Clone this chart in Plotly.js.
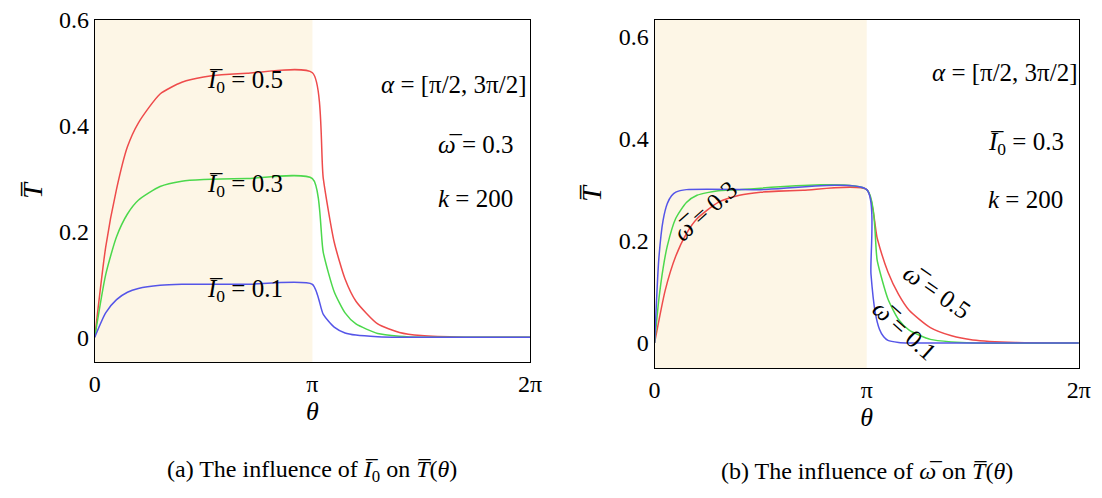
<!DOCTYPE html>
<html>
<head>
<meta charset="utf-8">
<script src="https://cdn.plot.ly/plotly-3.0.1.min.js"></script>
<style>body{margin:0;background:#fff}#chart{width:1102px;height:498px}</style>
</head>
<body>
<div id="chart"></div>
<script>
// theta is kept in units of pi
var thA = [0,0.05,0.1,0.15,0.2,0.3,0.4,0.5,0.7,1.0,1.05,1.1,1.15,1.2,1.3,1.4,1.5,1.7,2.0]
var a_I05 = [0,0.17,0.28,0.36,0.405,0.46,0.482,0.492,0.499,0.5,0.30,0.18,0.11,0.068,0.025,0.009,0.003,0,0]
var a_I03 = [0,0.118,0.19,0.233,0.259,0.285,0.295,0.298,0.3,0.3,0.16,0.086,0.046,0.025,0.007,0.002,0,0,0]
var a_I01 = [0,0.046,0.071,0.085,0.092,0.098,0.1,0.1,0.1,0.1,0.043,0.019,0.008,0.004,0.001,0,0,0,0]

var thB1 = [0,0.02,0.04,0.06,0.08,0.1,0.15,0.5,1.0,1.02,1.04,1.06,1.08,1.1,1.15,1.2,2.0]
var b_w01 = [0,0.165,0.24,0.273,0.288,0.295,0.3,0.3,0.3,0.135,0.06,0.027,0.012,0.005,0.001,0,0]
var thB3 = [0,0.02,0.04,0.06,0.1,0.15,0.2,0.3,0.4,1.0,1.05,1.1,1.15,1.2,1.3,1.4,1.5,2.0]
var b_w03 = [0,0.085,0.146,0.19,0.244,0.275,0.289,0.298,0.3,0.3,0.16,0.086,0.046,0.025,0.007,0.002,0,0]
var thB5 = [0,0.05,0.1,0.15,0.2,0.3,0.4,0.5,0.7,1.0,1.05,1.1,1.15,1.2,1.3,1.4,1.5,1.7,2.0]
var b_w05 = [0,0.103,0.17,0.214,0.243,0.275,0.289,0.295,0.299,0.3,0.204,0.139,0.095,0.064,0.03,0.014,0.006,0.001,0]

var RED = "#ee4b4b", GRN = "#4cd84c", BLU = "#5555e8"
var FONT = "Liberation Serif"

function line(x, y, c, xa, ya){
    return {x: x, y: y, xaxis: xa, yaxis: ya, mode: "lines",
        line: {color: c, width: 1.5, shape: "spline", smoothing: 0.6}, showlegend: false}
}
var traces = [
    line(thA, a_I05, RED, "x", "y"), line(thA, a_I03, GRN, "x", "y"), line(thA, a_I01, BLU, "x", "y"),
    line(thB5, b_w05, RED, "x2", "y2"), line(thB3, b_w03, GRN, "x2", "y2"), line(thB1, b_w01, BLU, "x2", "y2")
]

var xax = {range: [0, 2], tickvals: [0, 1, 2], ticktext: ["0", "π", "2π"], showgrid: false, zeroline: false,
    showline: true, mirror: true, linecolor: "#000", linewidth: 1, ticks: "", tickfont: {family: FONT, size: 24, color: "#000"},
    title: {text: "<i>θ</i>", font: {family: FONT, size: 26, color: "#000"}, standoff: 2}}
var yax = {tickvals: [0, 0.2, 0.4, 0.6], ticktext: ["0", "0.2", "0.4", "0.6"], showgrid: false, zeroline: false,
    showline: true, mirror: true, linecolor: "#000", linewidth: 1, ticks: "", tickfont: {family: FONT, size: 24, color: "#000"},
    title: {text: "<i>T̅</i>", font: {family: FONT, size: 28, color: "#000"}, standoff: 8}}

function ann(xr, yr, x, y, t, ang, sz){
    return {xref: xr, yref: yr, x: x, y: y, text: t, showarrow: false, textangle: ang || 0,
        xanchor: "center", yanchor: "middle", font: {family: FONT, size: sz || 25, color: "#000"}}
}
var I0 = "<i>I</i>̅<sub>0</sub>", W = "<i>ω</i>̅"
var annotations = [
    ann("x", "y", 0.69, 0.483, I0 + " = 0.5"), ann("x", "y", 0.69, 0.286, I0 + " = 0.3"), ann("x", "y", 0.69, 0.089, I0 + " = 0.1"),
    ann("x", "y", 1.65, 0.477, "<i>α</i> = [π/2, 3π/2]"), ann("x", "y", 1.75, 0.364, W + " = 0.3"), ann("x", "y", 1.75, 0.263, "<i>k</i> = 200"),
    ann("x2", "y2", 1.65, 0.53, "<i>α</i> = [π/2, 3π/2]"), ann("x2", "y2", 1.75, 0.39, I0 + " = 0.3"), ann("x2", "y2", 1.75, 0.28, "<i>k</i> = 200"),
    ann("x2", "y2", 0.24, 0.26, W + " = 0.3", -42), ann("x2", "y2", 1.33, 0.10, W + " = 0.5", 35), ann("x2", "y2", 1.18, 0.025, W + " = 0.1", 42),
    ann("paper", "paper", 0.283, 0.055, "(a) The influence of " + I0 + " on <i>T̅</i>(<i>θ</i>)", 0, 24),
    ann("paper", "paper", 0.787, 0.055, "(b) The influence of " + W + " on <i>T̅</i>(<i>θ</i>)", 0, 24)
]

var layout = {
    width: 1102, height: 498, margin: {l: 0, r: 0, t: 0, b: 0},
    paper_bgcolor: "#fff", plot_bgcolor: "#fff",
    xaxis: Object.assign({}, xax, {domain: [0.086, 0.481], anchor: "y"}),
    yaxis: Object.assign({}, yax, {domain: [0.273, 0.96], range: [-0.047, 0.6], anchor: "x"}),
    xaxis2: Object.assign({}, xax, {domain: [0.594, 0.979], anchor: "y2"}),
    yaxis2: Object.assign({}, yax, {domain: [0.261, 0.96], range: [-0.049, 0.632], anchor: "x2"}),
    shapes: [
        {type: "rect", xref: "x", yref: "y domain", x0: 0, x1: 1, y0: 0, y1: 1, fillcolor: "#fdf6e6", line: {width: 0}, layer: "below"},
        {type: "rect", xref: "x2", yref: "y2 domain", x0: 0, x1: 1, y0: 0, y1: 1, fillcolor: "#fdf6e6", line: {width: 0}, layer: "below"}
    ],
    annotations: annotations
}
Plotly.newPlot("chart", traces, layout, {displayModeBar: false, staticPlot: true})
</script>
</body>
</html>
